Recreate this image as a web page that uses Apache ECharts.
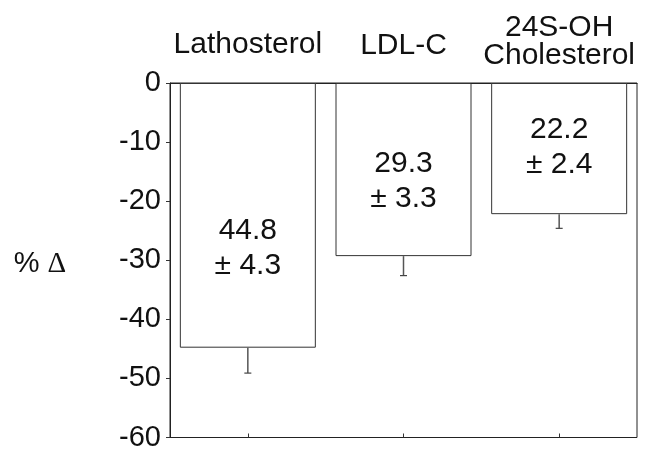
<!DOCTYPE html>
<html>
<head>
<meta charset="utf-8">
<script src="https://cdn.jsdelivr.net/npm/echarts@6/dist/echarts.min.js"></script>
<style>
  html, body { margin: 0; padding: 0; background: #fff; }
  #main { width: 649px; height: 452px; }
</style>
</head>
<body>
<div id="main"></div>
<script>
// 数据
const categories = ['Lathosterol', 'LDL-C', '24S-OH\nCholesterol'];
const meanChange = [-44.8, -29.3, -22.2];
const semValues = [4.3, 3.3, 2.4];
const yTicks = { min: -60, max: 0, interval: 10 };

// label 在柱子里的偏移 (px)
const labelShift = [33, 12, -1];

const FONT = '"Liberation Sans", Arial, Helvetica, sans-serif';

var myChart = echarts.init(document.getElementById('main'));

function renderErr(params, api) {
  var i = api.value(0);
  var from = api.coord([i, api.value(1)]);
  var to = api.coord([i, api.value(2)]);
  return {
    type: 'group',
    children: [
      {
        type: 'line',
        shape: { x1: from[0], y1: from[1], x2: to[0], y2: to[1] },
        style: { stroke: '#555', lineWidth: 1.5 }
      },
      {
        type: 'line',
        shape: { x1: to[0] - 3.5, y1: to[1], x2: to[0] + 3.5, y2: to[1] },
        style: { stroke: '#444', lineWidth: 1.2 }
      }
    ]
  };
}

var option = {
  animation: false,
  backgroundColor: '#fff',
  textStyle: { fontFamily: FONT },
  grid: {
    left: 170, right: 12, top: 83, bottom: 11,
    show: true, borderColor: '#222', borderWidth: 1
  },
  xAxis: [
    {
      type: 'category',
      data: categories,
      position: 'bottom',
      axisLine: { show: true, lineStyle: { color: '#222', width: 1 } },
      axisTick: { show: true, alignWithLabel: true, interval: 0, length: 4, lineStyle: { color: '#333' } },
      axisLabel: { show: false }
    },
    {
      type: 'category',
      data: categories,
      position: 'bottom',
      axisLine: { show: false },
      axisTick: { show: true, inside: true, alignWithLabel: true, interval: 0, length: 4, lineStyle: { color: '#333' } },
      axisLabel: { show: false }
    },
    {
      type: 'category',
      data: categories,
      position: 'top',
      axisLine: { show: false },
      axisTick: { show: false },
      axisLabel: {
        show: true,
        interval: 0,
        margin: 8,
        verticalAlign: 'bottom',
        formatter: function (value, idx) {
          if (idx === 2) {
            return value.split('\n').map(function (s) { return '{c2|' + s + '}'; }).join('\n');
          }
          return '{c' + idx + '|' + value + '}';
        },
        rich: {
          c0: { fontSize: 30, lineHeight: 30, color: '#111', fontFamily: FONT, padding: [0, 0, 31, 0] },
          c1: { fontSize: 30, lineHeight: 30, color: '#111', fontFamily: FONT, padding: [0, 0, 28, 0] },
          c2: { fontSize: 30, lineHeight: 28, color: '#111', fontFamily: FONT, padding: [0, 0, 11, 0] }
        }
      }
    }
  ],
  yAxis: {
    type: 'value',
    min: yTicks.min,
    max: yTicks.max,
    interval: yTicks.interval,
    name: '% {d|Δ}',
    nameLocation: 'middle',
    nameRotate: 0,
    nameGap: 130,
    nameTextStyle: {
      fontSize: 29, color: '#111', fontFamily: FONT, align: 'center',
      padding: [8, 0, 0, 0],
      rich: { d: { fontSize: 29, color: '#111', fontFamily: '"Liberation Serif", "DejaVu Serif", serif' } }
    },
    axisLine: { show: true, lineStyle: { color: '#222', width: 1 } },
    axisTick: { show: true, length: 4, lineStyle: { color: '#333' } },
    axisLabel: { fontSize: 29, color: '#111', margin: 9, fontFamily: FONT },
    splitLine: { show: false }
  },
  series: [
    {
      type: 'bar',
      xAxisIndex: 0,
      barWidth: 136,
      data: meanChange.map(function (v, i) {
        return {
          value: v,
          label: { offset: [0, labelShift[i]] }
        };
      }),
      itemStyle: { color: '#fff', borderColor: '#333', borderWidth: 1 },
      label: {
        show: true,
        position: 'inside',
        fontSize: 30,
        lineHeight: 35,
        color: '#111',
        fontFamily: FONT,
        formatter: function (p) {
          return Math.abs(p.value).toFixed(1) + '\n± ' + semValues[p.dataIndex].toFixed(1);
        }
      }
    },
    {
      type: 'custom',
      xAxisIndex: 0,
      renderItem: renderErr,
      data: meanChange.map(function (v, i) { return [i, v, v - semValues[i]]; }),
      z: 3
    }
  ]
};

myChart.setOption(option);
</script>
</body>
</html>
